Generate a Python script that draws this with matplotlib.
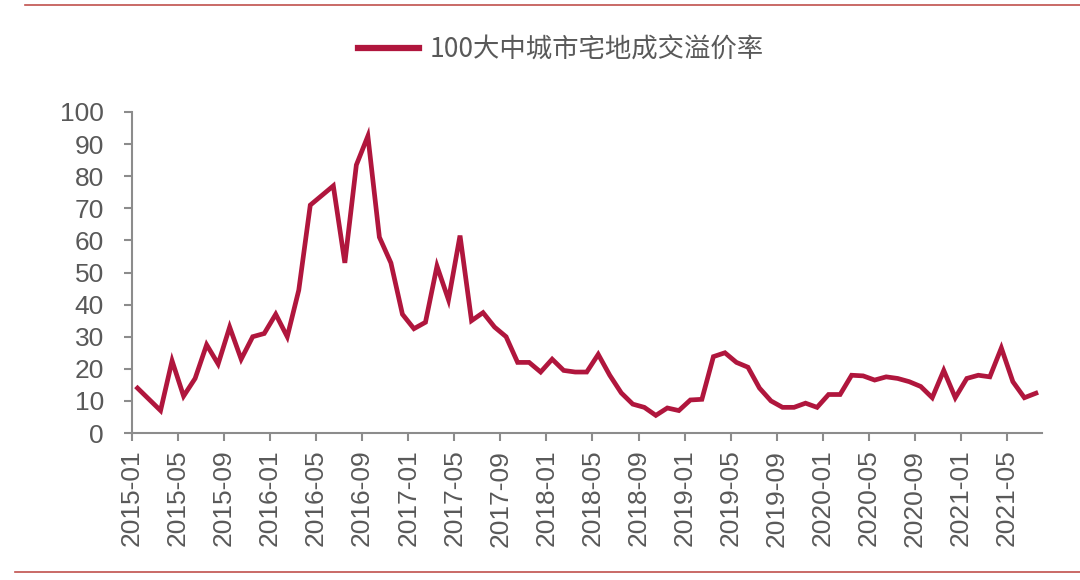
import numpy as np
import matplotlib.pyplot as plt
from matplotlib.lines import Line2D

plt.rcParams['font.family'] = ['Liberation Sans', 'Noto Sans CJK SC', 'DejaVu Sans']

# monthly series, 2015-01 .. 2021-07
start_year = 2015
n_months = 79
premium = [14, 10.5, 7, 22.5, 11.5, 17, 27.5, 21.5, 33, 23, 30, 31,
           37, 30, 44.5, 71, 74, 77, 53, 83.5, 92.5, 61, 53, 37,
           32.5, 34.5, 52, 41.5, 61.5, 35, 37.5, 33, 30, 22, 22, 19,
           23, 19.5, 19, 19, 24.5, 18, 12.5, 9, 8, 5.5, 7.8, 7,
           10.3, 10.5, 23.8, 25, 22, 20.5, 14, 10, 8, 8, 9.3, 8,
           12, 12, 18, 17.8, 16.5, 17.5, 17, 16, 14.5, 11, 19.5, 11,
           17, 18, 17.5, 26.5, 16, 11, 12.4]
series_name = '100大中城市宅地成交溢价率'
yticks = [0, 10, 20, 30, 40, 50, 60, 70, 80, 90, 100]

months = ['%d-%02d' % (start_year + i // 12, i % 12 + 1) for i in range(n_months)]

red = '#B0163D'
grey = '#8C8C8C'
txt = '#595959'

fig = plt.figure(figsize=(10.8, 5.8), dpi=100)
ax = fig.add_axes([0.122, 0.2534, 0.8425, 0.5535])

x = np.arange(n_months) + 0.5
ax.plot(x, premium, color=red, lw=3.4, solid_joinstyle='miter', label=series_name)

ax.set_xlim(0, n_months)
ax.set_ylim(0, 100)
ax.set_yticks(yticks)
ax.set_xticks(np.arange(0, n_months, 4))
ax.set_xticklabels(months[::4], rotation=90)

for s in ['top', 'right']:
    ax.spines[s].set_visible(False)
for s in ['left', 'bottom']:
    ax.spines[s].set_color(grey)
    ax.spines[s].set_linewidth(1.5)

ax.tick_params(axis='y', direction='out', length=6, width=1.5, color=grey,
               labelcolor=txt, labelsize=19, pad=14)
ax.tick_params(axis='x', direction='out', length=6, width=1.5, color=grey,
               labelcolor=txt, labelsize=19, pad=6)

leg = fig.legend(loc='center', bbox_to_anchor=(561 / 1080, 1 - 50 / 580),
                 frameon=False, handlelength=2.3, handletextpad=0.4,
                 prop={'family': ['Noto Sans CJK SC'], 'size': 19})
for t in leg.get_texts():
    t.set_color(txt)
for h in leg.get_lines():
    h.set_linewidth(4.5)

# thin red rules at top and bottom of the figure
fig.add_artist(Line2D([25 / 1080, 1], [1 - 5 / 580] * 2, color='#C0504D', lw=1.2))
fig.add_artist(Line2D([15 / 1080, 1], [1 - 572 / 580] * 2, color='#C0504D', lw=1.2))

fig.savefig('out.png', dpi=100)
